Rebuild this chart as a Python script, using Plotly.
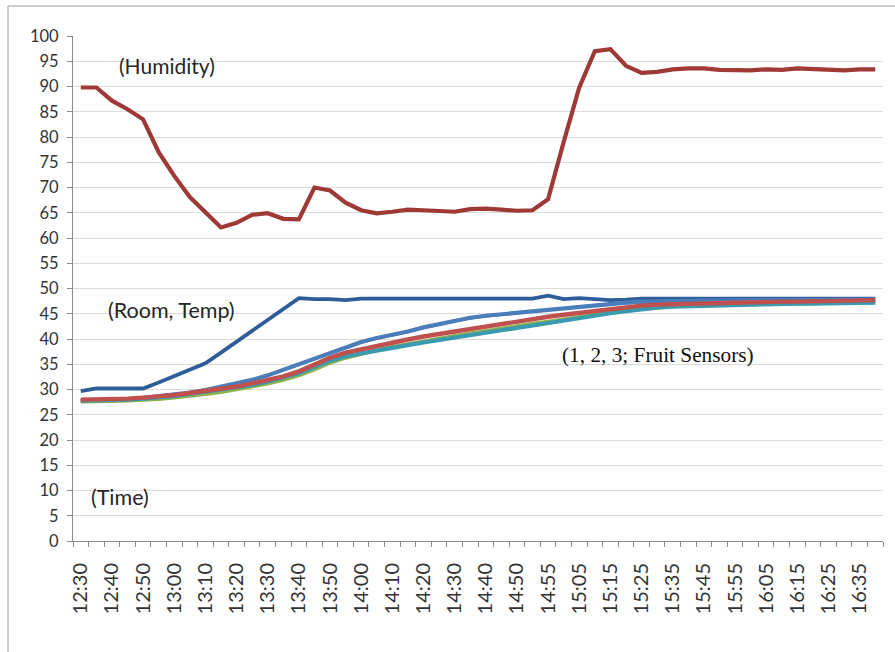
import plotly.graph_objects as go

# Sampling index: readings every ~5 minutes, labelled every second reading
sample_index = list(range(52))
time_labels = ["12:30", "12:40", "12:50", "13:00", "13:10", "13:20", "13:30",
               "13:40", "13:50", "14:00", "14:10", "14:20", "14:30", "14:40",
               "14:50", "14:55", "15:05", "15:15", "15:25", "15:35", "15:45",
               "15:55", "16:05", "16:15", "16:25", "16:35"]

humidity = [89.8, 89.8, 87.2, 85.5, 83.5, 77.0, 72.3, 68.1, 65.1, 62.1,
            63.0, 64.6, 64.9, 63.8, 63.7, 70.0, 69.4, 67.0, 65.5, 64.9,
            65.2, 65.6, 65.5, 65.3, 65.2, 65.7, 65.8, 65.6, 65.4, 65.5,
            67.7, 79.0, 89.8, 97.0, 97.4, 94.1, 92.7, 92.9, 93.4, 93.6,
            93.6, 93.3, 93.2, 93.2, 93.4, 93.3, 93.6, 93.4, 93.2, 93.2,
            93.4, 93.4]

room_temp = [29.7, 30.2, 30.2, 30.2, 30.2, 31.4, 32.6, 33.8, 35.2, 37.3,
             39.5, 41.6, 43.7, 45.9, 48.1, 47.9, 47.9, 47.7, 48.0, 48.0,
             48.0, 48.0, 48.0, 48.0, 48.0, 48.0, 48.0, 48.0, 48.0, 48.0,
             48.6, 47.9, 48.1, 47.9, 47.7, 47.8, 48.0, 48.0, 48.0, 48.0,
             48.0, 48.0, 48.0, 48.0, 48.0, 48.0, 48.0, 48.0, 48.0, 48.0,
             48.0, 48.0]

fruit_blue = [27.8, 27.8, 27.9, 28.0, 28.3, 28.6, 28.9, 29.4, 29.9, 30.5,
              31.2, 31.9, 32.8, 33.9, 35.0, 36.1, 37.3, 38.4, 39.4, 40.2,
              40.8, 41.5, 42.3, 42.9, 43.7, 44.2, 44.6, 44.9, 45.2, 45.5,
              45.8, 46.1, 46.4, 46.8, 47.0, 47.2, 47.4, 47.5, 47.5, 47.6,
              47.6, 47.6, 47.7, 47.7, 47.7, 47.7, 47.7, 47.8, 47.8, 47.8,
              47.8, 47.8]

fruit_purple = [27.8, 27.8, 27.9, 28.0, 28.2, 28.5, 28.8, 29.3, 29.8, 30.4,
                31.1, 31.8, 32.7, 33.8, 34.9, 36.0, 37.2, 38.3, 39.3, 40.1,
                40.7, 41.4, 42.2, 42.8, 43.6, 44.1, 44.5, 44.8, 45.1, 45.4,
                45.7, 46.0, 46.3, 46.7, 46.9, 47.1, 47.3, 47.4, 47.4, 47.5,
                47.5, 47.5, 47.6, 47.6, 47.6, 47.6, 47.6, 47.7, 47.7, 47.7,
                47.7, 47.7]

fruit_green = [27.6, 27.6, 27.7, 27.8, 27.9, 28.1, 28.4, 28.7, 29.1, 29.5,
               30.0, 30.5, 31.2, 31.9, 32.8, 34.0, 35.3, 36.3, 37.1, 37.8,
               38.4, 39.0, 39.6, 40.1, 40.6, 41.1, 41.6, 42.1, 42.6, 43.0,
               43.4, 43.9, 44.4, 44.9, 45.3, 45.7, 46.0, 46.3, 46.5, 46.6,
               46.7, 46.8, 46.9, 46.9, 47.0, 47.0, 47.1, 47.1, 47.2, 47.2,
               47.3, 47.3]

fruit_teal = [27.8, 27.8, 27.9, 28.0, 28.2, 28.4, 28.7, 29.1, 29.5, 29.9,
              30.4, 30.9, 31.6, 32.3, 33.2, 34.5, 35.7, 36.6, 37.2, 37.8,
              38.3, 38.8, 39.3, 39.8, 40.3, 40.8, 41.3, 41.8, 42.3, 42.7,
              43.1, 43.6, 44.1, 44.6, 45.1, 45.5, 45.9, 46.2, 46.4, 46.5,
              46.6, 46.7, 46.8, 46.8, 46.9, 46.9, 47.0, 47.0, 47.1, 47.1,
              47.2, 47.2]

fruit_red = [28.0, 28.0, 28.1, 28.2, 28.4, 28.6, 28.9, 29.3, 29.7, 30.1,
             30.6, 31.2, 31.9, 32.6, 33.6, 35.0, 36.3, 37.3, 38.0, 38.7,
             39.3, 39.9, 40.5, 41.0, 41.6, 42.1, 42.6, 43.0, 43.5, 44.0,
             44.4, 44.8, 45.2, 45.6, 46.0, 46.3, 46.6, 46.8, 46.9, 47.0,
             47.1, 47.2, 47.2, 47.3, 47.3, 47.4, 47.4, 47.5, 47.5, 47.6,
             47.6, 47.7]

# Drawing order: later entries sit on top
series = [
    ("Humidity", humidity, "#9E3936", 4.2),
    ("Room temperature", room_temp, "#2F5D9A", 3.8),
    ("Fruit sensor (purple)", fruit_purple, "#8064A2", 2.5),
    ("Fruit sensor (blue)", fruit_blue, "#4A7EBB", 4.2),
    ("Fruit sensor (green)", fruit_green, "#8DB24F", 4.0),
    ("Fruit sensor (teal)", fruit_teal, "#3A9BAE", 4.2),
    ("Fruit sensor (red)", fruit_red, "#C0504D", 4.4),
]

fig = go.Figure()
for name, values, color, width in series:
    fig.add_trace(go.Scatter(
        x=sample_index, y=values, name=name, mode="lines",
        line=dict(color=color, width=width),
        showlegend=False,
    ))

label_positions = sample_index[::2]
axis_grey = "#8C8C8C"
text_grey = "#333333"

fig.update_layout(
    width=895, height=652,
    margin=dict(l=73, r=12, t=36, b=111, autoexpand=False),
    paper_bgcolor="white", plot_bgcolor="white",
    font=dict(family="Lato, 'Open Sans', sans-serif", color=text_grey),
    xaxis=dict(
        range=[-0.5, 51.5],
        tickmode="array", tickvals=label_positions, ticktext=time_labels,
        tickangle=-90, ticks="", showgrid=False, zeroline=False,
        showline=True, linecolor=axis_grey, linewidth=1,
        tickfont=dict(size=20, color=text_grey),
        ticklabelstandoff=13,
        minor=dict(tickmode="array",
                   tickvals=[i - 0.5 for i in range(53)],
                   ticks="outside", ticklen=5, tickcolor=axis_grey,
                   tickwidth=1, showgrid=False),
    ),
    yaxis=dict(
        range=[0, 100], tickmode="linear", tick0=0, dtick=5,
        ticks="outside", ticklen=5, tickcolor=axis_grey, tickwidth=1,
        showgrid=True, gridcolor="#DCDCDC", gridwidth=1,
        zeroline=False, showline=True, linecolor=axis_grey, linewidth=1,
        tickfont=dict(size=16.5, color=text_grey),
        ticklabelstandoff=5,
    ),
)

# White text box behind the fruit-sensor caption (hides grid lines)
fig.add_shape(type="rect", xref="x", yref="y", layer="below",
              x0=30.45, x1=48.85, y0=32.9, y1=41.8,
              fillcolor="white", line=dict(width=0))

# Outer frame of the chart area
frame = "#BDBDBD"
fig.add_shape(type="line", xref="paper", yref="paper",
              x0=-0.0802, x1=1.02, y0=1.0594, y1=1.0594,
              line=dict(color=frame, width=1.5))
fig.add_shape(type="line", xref="paper", yref="paper",
              x0=-0.0802, x1=-0.0802, y0=1.0594, y1=-0.23,
              line=dict(color=frame, width=1.5))

captions = [
    ("(Humidity)", 0.0543, 0.9406, "Lato", 21, "#262626"),
    ("(Room, Temp)", 0.0407, 0.4574, "Lato", 21.5, "#262626"),
    ("(Time)", 0.0198, 0.0871, "Lato", 21.5, "#262626"),
    ("(1, 2, 3; Fruit Sensors)", 0.6012, 0.3683, "Liberation Serif", 21.3, "#111111"),
]
for text, xp, yp, fam, size, col in captions:
    fig.add_annotation(text=text, xref="paper", yref="paper", x=xp, y=yp,
                       xanchor="left", yanchor="middle", showarrow=False,
                       font=dict(family=fam, size=size, color=col))

fig.write_html("out.html")
